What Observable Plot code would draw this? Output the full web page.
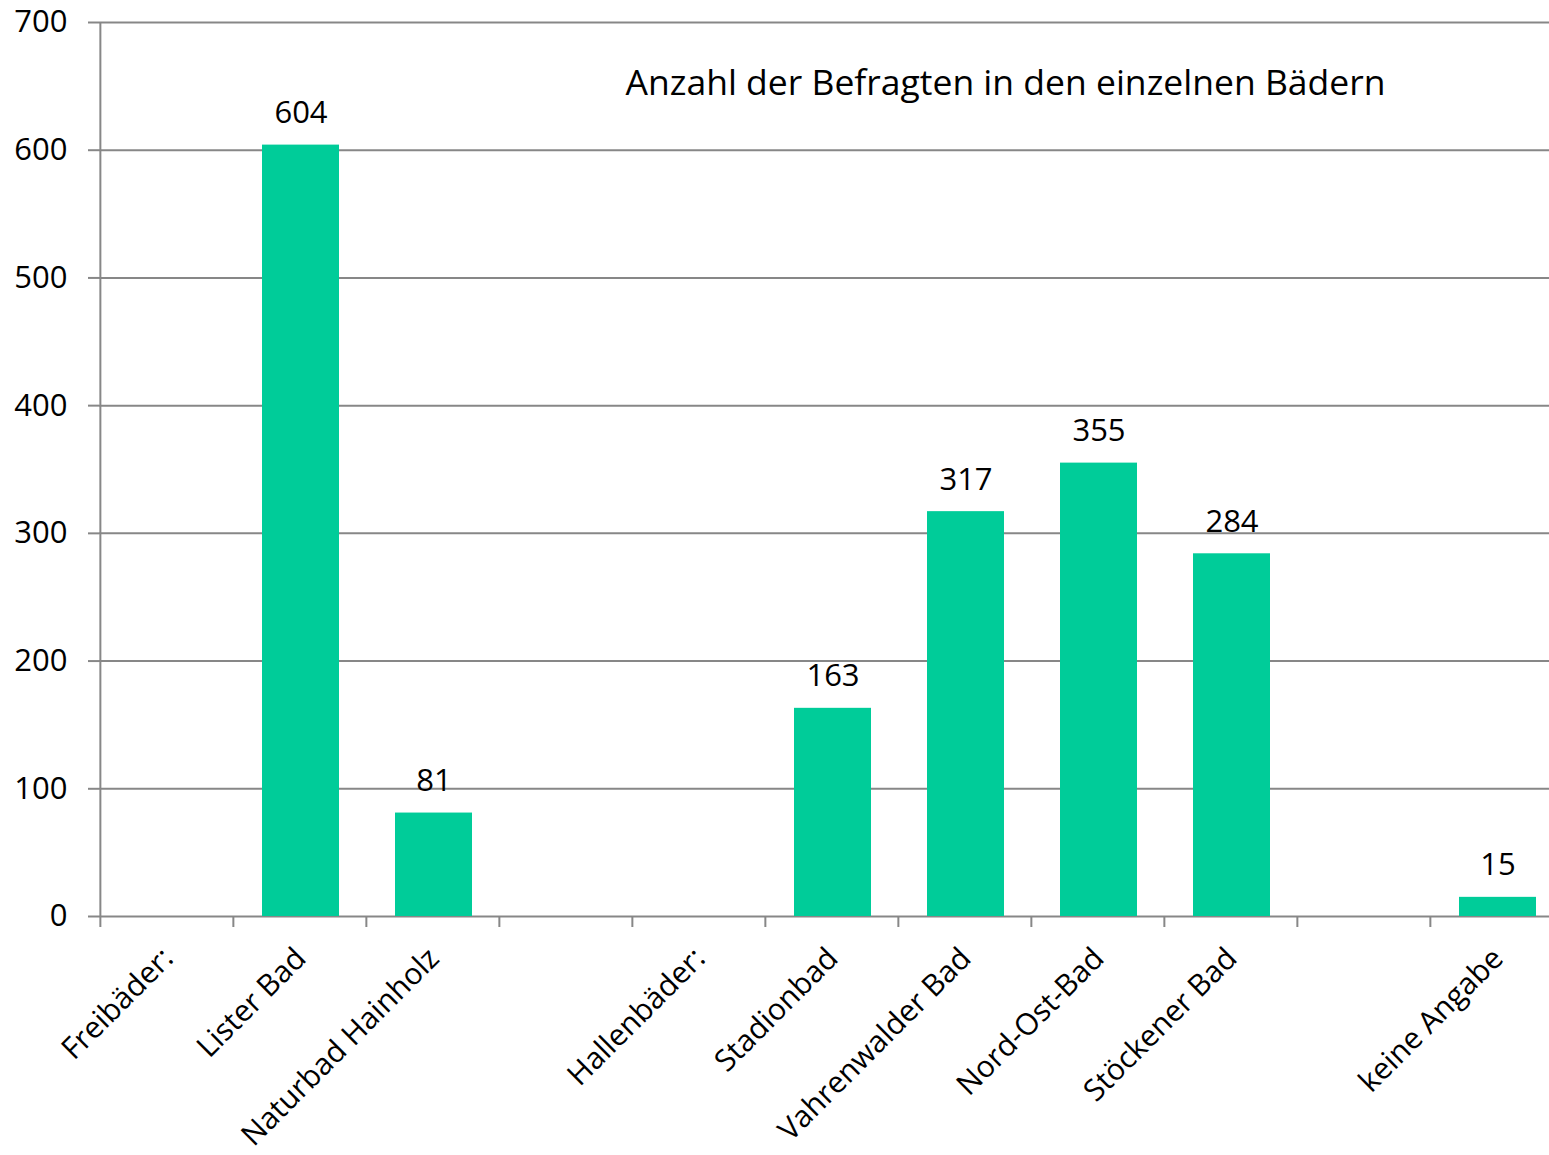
<!DOCTYPE html>
<html>
<head>
<meta charset="utf-8">
<script src="https://cdn.jsdelivr.net/npm/d3@7"></script>
<script src="https://cdn.jsdelivr.net/npm/@observablehq/plot@0.6"></script>
<style>
  html, body { margin: 0; padding: 0; background: #fff; }
  #chart svg { display: block; }
</style>
</head>
<body>
<div id="chart"></div>
<script>
const categories = ["Freibäder:", "Lister Bad", "Naturbad Hainholz", " ", "Hallenbäder:", "Stadionbad", "Vahrenwalder Bad", "Nord-Ost-Bad", "Stöckener Bad", "  ", "keine Angabe"];
const counts = [null, 604, 81, null, null, 163, 317, 355, 284, null, 15];
const yTicks = [0, 100, 200, 300, 400, 500, 600, 700];
const title = "Anzahl der Befragten in den einzelnen Bädern";

const data = categories.map((c, i) => ({category: c, count: counts[i]}));
const bars = data.filter(d => d.count != null);

const W = 1549, H = 1155, ML = 99, MR = -16, MT = 22, MB = 239;
const step = (W - ML - MR) / categories.length;
const gray = "#878787";

const chart = Plot.plot({
  width: W, height: H,
  marginLeft: ML, marginRight: MR, marginTop: MT, marginBottom: MB,
  style: {fontFamily: "'Open Sans', sans-serif", fontSize: "31px", color: "#000", background: "#fff"},
  x: {domain: categories, padding: 0},
  y: {domain: [0, 700]},
  marks: [
    Plot.gridY(yTicks, {stroke: gray, strokeOpacity: 1, strokeWidth: 2}),
    Plot.axisY(yTicks, {tickSize: 11, tickPadding: 21, stroke: gray, strokeWidth: 2, label: null, fill: "#000"}),
    Plot.ruleX([categories[0]], {dx: -step / 2 - 1, y1: 0, y2: 700, stroke: gray, strokeWidth: 2}),
    Plot.barY(bars, {x: "category", y: "count", fill: "#00CC99", insetLeft: 28, insetRight: 28}),
    Plot.text(bars, {x: "category", y: "count", text: d => String(d.count), lineAnchor: "bottom", dy: -22, fill: "#000"}),
    Plot.axisX({tickSize: 11, dx: -step / 2 - 1, tickFormat: () => "", stroke: gray, strokeWidth: 2, label: null}),
    Plot.axisX({tickSize: 0, tickRotate: -45, tickPadding: 37, tickFormat: d => d.trim(), label: null, fill: "#000", fontSize: 30}),
    Plot.text([title], {frameAnchor: "top", dx: 173, dy: 72, lineAnchor: "bottom", fontSize: 35.5, fill: "#000"})
  ]
});
document.getElementById("chart").appendChild(chart);
</script>
</body>
</html>
